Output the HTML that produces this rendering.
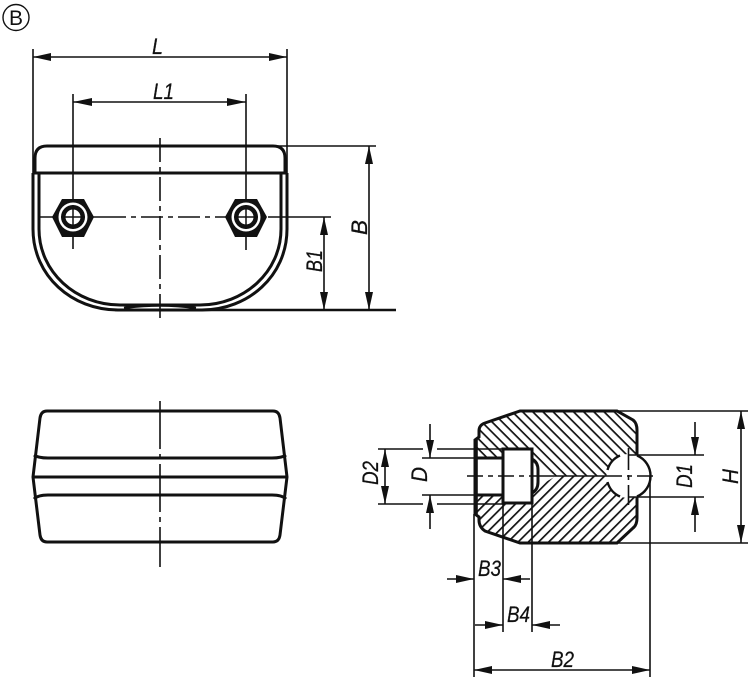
<!DOCTYPE html>
<html><head><meta charset="utf-8"><style>
html,body{margin:0;padding:0;background:#fff}
svg{display:block}
text{font-family:"Liberation Sans",sans-serif;font-style:italic;font-size:22px;fill:#111;stroke:#111;stroke-width:.25px}
</style></head><body>
<svg width="750" height="681" viewBox="0 0 750 681" xmlns="http://www.w3.org/2000/svg">
<defs>
<pattern id="h1" patternUnits="userSpaceOnUse" width="7.2" height="7.2" patternTransform="rotate(45)"><rect width="7.2" height="1.7" fill="#111"/></pattern>
<pattern id="h2" patternUnits="userSpaceOnUse" width="7.2" height="7.2" patternTransform="rotate(-45)"><rect width="7.2" height="1.7" fill="#111"/></pattern>
<clipPath id="sec"><path d="M520 411H617L633 420Q637 423 637 430V518Q637 525 633 528L617 543H520L485 531Q479 527 479 520V517L475 514V440L479 437V431Q479 425 485 423Z"/></clipPath>
</defs>

<!-- balloon -->
<circle cx="16" cy="17.5" r="13" fill="none" stroke="#111" stroke-width="1.4"/>
<text x="16" y="25" text-anchor="middle" style="font-style:normal;font-size:21px;stroke-width:0">B</text>

<g fill="none" stroke="#111" stroke-linecap="butt">
<!-- top view -->
<g stroke-width="3">
<path d="M35 173V158Q35 146 47 146H273Q285 146 285 158V173"/>
<path d="M33 173V229C33 276 72 310 118 310H202C248 310 287 276 287 229V173"/>
<path d="M39 173V229C39 272 76 305 120 305H200C244 305 281 272 281 229V173"/>
<path d="M34 173H286"/>
<path d="M124 308Q160 303 196 308" stroke-width="2.4"/>
</g>
<g stroke-width="1.6">
<path d="M33 49V173M287 49V173M73 94V249M246 94V250"/>
<path d="M33 57H287M73 102H246"/>
<path d="M275 146H376M369 146V310M324 217V310"/>
<path d="M40 217H104M268 217H331"/>
<path d="M104 217H228" stroke-dasharray="22 5 5 5"/>
<path d="M160 138V318" stroke-dasharray="24 5 5 5"/>
</g>
<path d="M115 310H396" stroke-width="2.6"/>
</g>

<!-- nuts -->
<g id="nuts">
<path d="M52 217L62 199H84L94 217L84 237H62Z" fill="#111"/>
<circle cx="73" cy="217" r="14.5" fill="#fff"/><circle cx="73" cy="217" r="12" fill="#111"/><circle cx="73" cy="217" r="7.5" fill="#fff"/>
<path d="M225 217L235 199H257L267 217L257 237H235Z" fill="#111"/>
<circle cx="246" cy="217" r="14.5" fill="#fff"/><circle cx="246" cy="217" r="12" fill="#111"/><circle cx="246" cy="217" r="7.5" fill="#fff"/>
<path d="M73 205V229M61 217H85M246 205V229M234 217H258" stroke="#111" stroke-width="1.5"/>
</g>

<!-- front view -->
<g fill="none" stroke="#111">
<g stroke-width="3">
<path d="M47 411H273Q279 411 280 418L287 477L280 535Q279 542 273 542H47Q41 542 40 535L33 477L40 418Q41 411 47 411Z"/>
<path d="M34 455Q38 458 48 458H272Q282 458 286 455"/>
<path d="M33 477H287"/>
<path d="M34 499Q38 495 48 495H272Q282 495 286 499"/>
</g>
<path d="M160 401V567" stroke-width="1.6" stroke-dasharray="48 5 5 5"/>
</g>

<!-- section -->
<g clip-path="url(#sec)">
<rect x="470" y="405" width="175" height="71" fill="url(#h1)"/>
<rect x="470" y="476" width="175" height="72" fill="url(#h2)"/>
</g>
<path d="M532 462L556 476L532 490Z" fill="#fff"/>
<path d="M520 411H617L633 420Q637 423 637 430V518Q637 525 633 528L617 543H520L485 531Q479 527 479 520V517L475 514V440L479 437V431Q479 425 485 423Z" fill="none" stroke="#111" stroke-width="3"/>
<circle cx="628.500" cy="476" r="22" fill="#fff"/>
<path d="M607.500 470A22 22 0 0 1 620 455.500M637 455.500A22 22 0 0 1 650.500 476A22 22 0 0 1 637 496.500M620 496.500A22 22 0 0 1 607.500 482" fill="none" stroke="#111" stroke-width="2.4"/>
<rect x="475" y="458" width="28" height="37" fill="#fff"/>
<rect x="503" y="449" width="29" height="54" fill="#fff"/>
<g fill="none" stroke="#111" stroke-width="3">
<path d="M476 458H503M476 495H503"/>
<rect x="503" y="449" width="29" height="54"/>
<path d="M532 459Q538 462 538 470V482Q538 490 532 493"/>
<path d="M476 440V514" stroke-width="3.6"/>
</g>
<g fill="none" stroke="#111" stroke-width="1.6">
<path d="M467 476H540" stroke-dasharray="16 5 5 5"/>
<path d="M540 476H606"/>
<path d="M606 476H657" stroke-dasharray="16 5 5 5"/>
<path d="M628.500 448V505" stroke-dasharray="22 5 5 5"/>
<path d="M378 449H423M437 449H503M378 504H423M437 504H503M422 458H475M422 495H475"/>
<path d="M385 449V504M430 424V458M430 495V529"/>
<path d="M617 411H748M617 543H748M741 411V543"/>
<path d="M628 455H704M628 497H704M695 422V455M695 497V532"/>
<path d="M474 514V677M503 503V632M532 503V632M650 476V677"/>
<path d="M447 579H474M503 579H530M475 625H503M532 625H560M474 670H650"/>
</g>

<!-- arrowheads -->
<g fill="#111">
<path d="M33 57L51 53V61Z"/><path d="M287 57L269 53V61Z"/>
<path d="M73 102L92 98V106Z"/><path d="M246 102L227 98V106Z"/>
<path d="M369 146L365 164H373Z"/><path d="M369 310L365 292H373Z"/>
<path d="M324 217L320 235H328Z"/><path d="M324 310L320 292H328Z"/>
<path d="M385 449L381 467H389Z"/><path d="M385 504L381 486H389Z"/>
<path d="M430 458L426 440H434Z"/><path d="M430 495L426 513H434Z"/>
<path d="M741 411L737 429H745Z"/><path d="M741 543L737 525H745Z"/>
<path d="M695 455L691 437H699Z"/><path d="M695 497L691 515H699Z"/>
<path d="M474 579L456 575V583Z"/><path d="M503 579L521 575V583Z"/>
<path d="M503 625L485 621V629Z"/><path d="M532 625L550 621V629Z"/>
<path d="M474 670L492 666V674Z"/><path d="M650 670L632 666V674Z"/>
</g>

<!-- labels -->
<text x="152" y="54" textLength="11" lengthAdjust="spacingAndGlyphs">L</text>
<text x="153" y="99" textLength="21" lengthAdjust="spacingAndGlyphs">L1</text>
<text transform="translate(367,235) rotate(-90)" textLength="15" lengthAdjust="spacingAndGlyphs">B</text>
<text transform="translate(322,272) rotate(-90)" textLength="22" lengthAdjust="spacingAndGlyphs">B1</text>
<text transform="translate(378,485) rotate(-90)" textLength="24" lengthAdjust="spacingAndGlyphs">D2</text>
<text transform="translate(427,482) rotate(-90)" textLength="15" lengthAdjust="spacingAndGlyphs">D</text>
<text transform="translate(692,488) rotate(-90)" textLength="24" lengthAdjust="spacingAndGlyphs">D1</text>
<text transform="translate(738,484) rotate(-90)" textLength="15" lengthAdjust="spacingAndGlyphs">H</text>
<text x="478" y="576" textLength="23" lengthAdjust="spacingAndGlyphs">B3</text>
<text x="507" y="622" textLength="23" lengthAdjust="spacingAndGlyphs">B4</text>
<text x="551" y="667" textLength="23" lengthAdjust="spacingAndGlyphs">B2</text>
</svg>
</body></html>
